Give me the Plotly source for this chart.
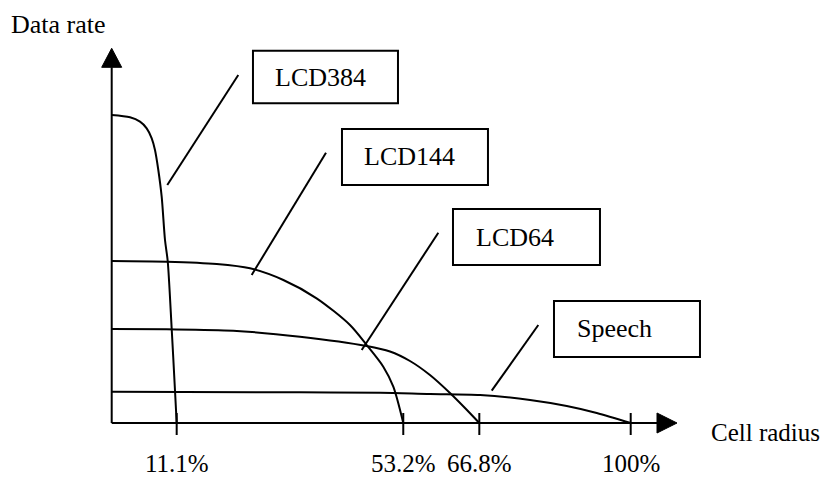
import plotly.graph_objects as go

# ---- data (x: position on the cell-radius axis, 1.0 = 100% tick; y: relative data rate) ----
series_names = ["LCD384", "LCD144", "LCD64", "Speech"]

lcd384_x = [0, 0.0353, 0.0545, 0.0674, 0.0771, 0.0834, 0.0898, 0.0963, 0.1027, 0.1079, 0.1156, 0.1220, 0.1252]
lcd384_y = [3.08, 3.057, 3.013, 2.947, 2.847, 2.73, 2.53, 2.263, 1.83, 1.62, 0.94, 0.32, 0.0]

lcd144_x = [0, 0.106, 0.2023, 0.2665, 0.3307, 0.3948, 0.4591, 0.4913, 0.5233, 0.5426, 0.5618]
lcd144_y = [1.62, 1.613, 1.59, 1.547, 1.43, 1.247, 0.98, 0.78, 0.563, 0.363, 0.0]

lcd64_x = [0, 0.106, 0.2341, 0.3628, 0.4913, 0.5362, 0.5747, 0.6132, 0.6518, 0.6807, 0.7083]
lcd64_y = [0.94, 0.937, 0.923, 0.863, 0.77, 0.715, 0.62, 0.48, 0.30, 0.15, 0.0]

speech_x = [0, 0.3628, 0.5175, 0.6132, 0.7098, 0.8061, 0.8768, 0.9346, 1.0]
speech_y = [0.313, 0.307, 0.303, 0.29, 0.28, 0.23, 0.17, 0.10, 0.0]

tick_pos = [0.1252, 0.5618, 0.7083, 1.0]
tick_labels = ["11.1%", "53.2%", "66.8%", "100%"]

x_title = "Cell radius"
y_title = "Data rate"

# ---- layout helpers (positions of callout boxes / leader lines, in axis units) ----
box_rects = [  # x0, x1, y0, y1
    (0.2722, 0.5516, 3.197, 3.723),
    (0.4437, 0.7250, 2.38, 2.94),
    (0.6576, 0.9408, 1.58, 2.14),
    (0.8522, 1.1335, 0.66, 1.22),
]
box_text_pos = [(0.311, 3.46), (0.4822, 2.67), (0.6981, 1.86), (0.8927, 0.95)]
leaders = [  # from box side to curve
    (0.2439, 3.48, 0.1071, 2.38),
    (0.4129, 2.703, 0.2697, 1.48),
    (0.6293, 1.903, 0.4817, 0.73),
    (0.8220, 0.98, 0.7322, 0.323),
]
x_axis_end = 1.0507
y_axis_end = 3.557

FONT = "Liberation Serif, Times New Roman, serif"
LW = 2

fig = go.Figure()
for xs, ys, name in [(lcd384_x, lcd384_y, series_names[0]),
                     (lcd144_x, lcd144_y, series_names[1]),
                     (lcd64_x, lcd64_y, series_names[2]),
                     (speech_x, speech_y, series_names[3])]:
    fig.add_trace(go.Scatter(x=xs, y=ys, mode="lines", name=name,
                             line=dict(color="black", width=LW, shape="spline", smoothing=0.8),
                             showlegend=False, hoverinfo="skip"))

shapes = []
# axes
shapes.append(dict(type="line", x0=0, x1=x_axis_end, y0=0, y1=0, line=dict(color="black", width=LW)))
shapes.append(dict(type="line", x0=0, x1=0, y0=0, y1=y_axis_end, line=dict(color="black", width=LW)))
# arrowheads
shapes.append(dict(type="path", xsizemode="pixel", ysizemode="pixel", xanchor=x_axis_end, yanchor=0,
                   path="M0,-10 L20,0 L0,10 Z", fillcolor="black", line=dict(color="black", width=1)))
shapes.append(dict(type="path", xsizemode="pixel", ysizemode="pixel", xanchor=0, yanchor=y_axis_end,
                   path="M-10,0 L0,19 L10,0 Z", fillcolor="black", line=dict(color="black", width=1)))
# ticks
for tp in tick_pos:
    shapes.append(dict(type="line", x0=tp, x1=tp, ysizemode="pixel", yanchor=0, y0=-12, y1=10,
                       line=dict(color="black", width=LW)))
# boxes
for (bx0, bx1, by0, by1) in box_rects:
    shapes.append(dict(type="rect", x0=bx0, x1=bx1, y0=by0, y1=by1,
                       line=dict(color="black", width=LW), fillcolor="white"))
# leader lines
for (lx0, ly0, lx1, ly1) in leaders:
    shapes.append(dict(type="line", x0=lx0, y0=ly0, x1=lx1, y1=ly1, line=dict(color="black", width=LW)))

annotations = []
for name, (tx, ty) in zip(series_names, box_text_pos):
    annotations.append(dict(x=tx, y=ty, text=name, showarrow=False, xanchor="left", yanchor="middle",
                            font=dict(family=FONT, size=26, color="black")))
for tp, tl in zip(tick_pos, tick_labels):
    annotations.append(dict(x=tp, y=-0.405, text=tl, showarrow=False, xanchor="center", yanchor="middle",
                            borderpad=0, font=dict(family=FONT, size=25, color="black")))
annotations.append(dict(x=1.153, y=-0.095, text=x_title, showarrow=False, xanchor="left", yanchor="middle",
                        borderpad=0, font=dict(family=FONT, size=25, color="black")))
annotations.append(dict(x=-0.196, y=3.99, text=y_title, showarrow=False, xanchor="left", yanchor="middle",
                        borderpad=0, font=dict(family=FONT, size=26, color="black")))

# The page body has an 8px default margin, so the figure is 8px smaller and its
# axis ranges start 8px further in, keeping the drawing where the reference has it.
fig.update_layout(
    width=823, height=472, autosize=False,
    margin=dict(l=0, r=0, t=0, b=0, pad=0),
    paper_bgcolor="white", plot_bgcolor="white",
    xaxis=dict(range=[-0.19981, 1.38594], visible=False, fixedrange=True),
    yaxis=dict(range=[-0.57, 4.15], visible=False, fixedrange=True),
    shapes=shapes, annotations=annotations, showlegend=False,
)

fig.write_html("out.html")
